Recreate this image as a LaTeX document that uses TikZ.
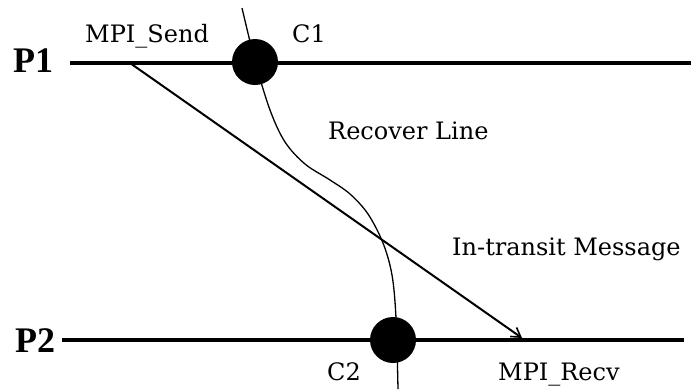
\documentclass[tikz,border=0pt]{standalone}
\usepackage{fontspec}
\setmainfont{DejaVu Serif}
\newfontfamily\procfont{Liberation Serif}
\usetikzlibrary{arrows.meta}
\tikzset{
  timeline/.style={line width=3.6pt},
  ckpt/.style={circle, fill=black, minimum size=46pt, inner sep=0pt},
  lbl/.style={font=\fontsize{24}{27}\selectfont, inner sep=0pt, anchor=base west},
  proc/.style={font=\procfont\bfseries\fontsize{36}{40}\selectfont, inner sep=0pt, anchor=base west},
  msg/.style={line width=2pt, -{Straight Barb[length=9pt,width=11pt,line width=1.6pt]}},
  recline/.style={line width=1.3pt}
}
\begin{document}
\begin{tikzpicture}[x=1pt,y=-1pt]
\useasboundingbox (0,0) rectangle (691,389);
% process labels
\node[proc] (p1) at (13,72) {P1};
\node[proc] (p2) at (15,352) {P2};
% timelines
\coordinate (p1s) at (70,63);
\coordinate (p1e) at (691,63);
\coordinate (p2s) at (62,340);
\coordinate (p2e) at (684,340);
\draw[timeline] (p1s) -- (p1e);
\draw[timeline] (p2s) -- (p2e);
% recovery line
\draw[recline] plot[smooth, tension=0.55] coordinates {(242,8) (255,61) (270,110) (285,142) (305,164) (330,180) (350,194) (368,214) (383,243) (392,275) (396,318) (398,389)};
% checkpoints
\node[ckpt] (c1) at (255,62) {};
\node[ckpt] (c2) at (393,340) {};
% message
\coordinate (send) at (130,63);
\coordinate (recv) at (522,338);
\draw[msg] (send) -- (recv);
% labels
\node[lbl] (lsend) at (85,42) {MPI\_Send};
\node[lbl] (lc1) at (292,42) {C1};
\node[lbl] (lrec) at (328,139) {Recover Line};
\node[lbl] (lmsg) at (452,255) {In-transit Message};
\node[lbl] (lc2) at (327,380) {C2};
\node[lbl] (lrecv) at (498,380) {MPI\_Recv};
\end{tikzpicture}
\end{document}
